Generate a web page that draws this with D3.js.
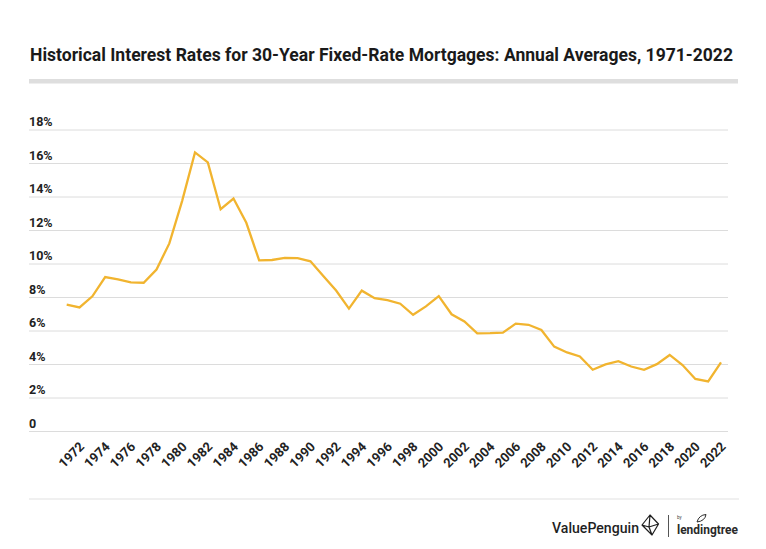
<!DOCTYPE html>
<html>
<head>
<meta charset="utf-8">
<script src="https://cdn.jsdelivr.net/npm/d3@7"></script>
<style>
  body { margin: 0; background: #fff; }
  svg { display: block; font-family: Roboto, "Noto Sans", sans-serif; }
</style>
</head>
<body>
<svg width="766" height="549"></svg>
<script>
// annual averages
const years = [1971, 1972, 1973, 1974, 1975, 1976, 1977, 1978, 1979, 1980,
    1981, 1982, 1983, 1984, 1985, 1986, 1987, 1988, 1989, 1990,
    1991, 1992, 1993, 1994, 1995, 1996, 1997, 1998, 1999, 2000,
    2001, 2002, 2003, 2004, 2005, 2006, 2007, 2008, 2009, 2010,
    2011, 2012, 2013, 2014, 2015, 2016, 2017, 2018, 2019, 2020,
    2021, 2022];
const rates = [7.54, 7.38, 8.04, 9.19, 9.05, 8.87, 8.85, 9.64, 11.20, 13.74,
    16.63, 16.04, 13.24, 13.88, 12.43, 10.19, 10.21, 10.34, 10.32, 10.13,
    9.25, 8.39, 7.31, 8.38, 7.93, 7.81, 7.60, 6.94, 7.44, 8.05,
    6.97, 6.54, 5.83, 5.84, 5.87, 6.41, 6.34, 6.03, 5.04, 4.69,
    4.45, 3.66, 3.98, 4.17, 3.85, 3.65, 3.99, 4.54, 3.94, 3.11,
    2.96, 4.10];
const yTicks = [0, 2, 4, 6, 8, 10, 12, 14, 16, 18];
const xTicks = d3.range(1972, 2023, 2);

const svg = d3.select("svg");

// title + grey bar
svg.append("text")
    .attr("x", 30)
    .attr("y", 61)
    .attr("textLength", 703)
    .attr("lengthAdjust", "spacingAndGlyphs")
    .style("font-size", "17.5px")
    .style("font-weight", 700)
    .style("fill", "#1a1a1a")
    .text("Historical Interest Rates for 30-Year Fixed-Rate Mortgages: Annual Averages, 1971-2022");

svg.append("rect")
    .attr("x", 29).attr("y", 79)
    .attr("width", 709).attr("height", 4.5)
    .attr("fill", "#dedede");

// scales
const gridLeft = 29, gridRight = 728;
const x = d3.scaleLinear().domain([1971, 2022]).range([66.7, 721]);
const y = d3.scaleLinear().domain([0, 18]).range([431, 129.5]);

// y grid + labels
const yAxis = svg.append("g")
    .attr("transform", `translate(${gridLeft},0)`)
    .call(d3.axisLeft(y)
        .tickValues(yTicks)
        .tickSize(-(gridRight - gridLeft))
        .tickFormat(d => d === 0 ? "0" : d + "%"));
yAxis.select(".domain").remove();
yAxis.selectAll(".tick line").attr("stroke", "#dcdcdc").attr("stroke-width", 1);
yAxis.selectAll(".tick text")
    .attr("x", 0)
    .attr("y", -4)
    .attr("dy", 0)
    .attr("text-anchor", "start")
    .style("font-family", "Roboto, sans-serif")
    .style("font-size", "12.5px")
    .style("font-weight", 700)
    .style("fill", "#222");

// x labels (rotated)
const xAxis = svg.append("g")
    .attr("transform", "translate(0,431)")
    .call(d3.axisBottom(x).tickValues(xTicks).tickSize(0).tickFormat(d3.format("d")));
xAxis.select(".domain").remove();
xAxis.selectAll(".tick text")
    .attr("y", 0)
    .attr("dy", 0)
    .attr("text-anchor", "end")
    .attr("transform", "translate(5,16.5) rotate(-45)")
    .style("font-family", "Roboto, sans-serif")
    .style("font-size", "13px")
    .style("font-weight", 700)
    .style("fill", "#222");

// the line
const line = d3.line()
    .x((d, i) => x(years[i]))
    .y(d => y(d));

svg.append("path")
    .datum(rates)
    .attr("d", line)
    .attr("fill", "none")
    .attr("stroke", "#f1b42f")
    .attr("stroke-width", 2.3)
    .attr("stroke-linejoin", "miter");

// footer
svg.append("line")
    .attr("x1", 29).attr("x2", 739)
    .attr("y1", 499).attr("y2", 499)
    .attr("stroke", "#e2e2e2").attr("stroke-width", 1.2);

const logo = svg.append("g");
logo.append("text")
    .attr("x", 552).attr("y", 533)
    .attr("textLength", 87)
    .attr("lengthAdjust", "spacingAndGlyphs")
    .style("font-size", "14.5px")
    .style("font-weight", 500)
    .style("fill", "#1f1f1f")
    .text("ValuePenguin");

// penguin mark (rough folded diamond)
logo.append("path")
    .attr("d", "M650,515 L658.5,524 L652,535 L642,525 Z M650,515 L649,527 L658.5,524 M642,525 L649,527 L652,535")
    .attr("fill", "none")
    .attr("stroke", "#1f1f1f")
    .attr("stroke-width", 1.2)
    .attr("stroke-linejoin", "round");

logo.append("line")
    .attr("x1", 668.5).attr("x2", 668.5)
    .attr("y1", 515).attr("y2", 537)
    .attr("stroke", "#555").attr("stroke-width", 1);

logo.append("text")
    .attr("x", 677).attr("y", 519)
    .style("font-size", "4.5px")
    .style("fill", "#444")
    .text("by");

logo.append("text")
    .attr("x", 677).attr("y", 534)
    .attr("textLength", 61)
    .attr("lengthAdjust", "spacingAndGlyphs")
    .style("font-size", "13px")
    .style("font-weight", 700)
    .style("fill", "#2a2a2a")
    .text("lendingtree");

// little leaf on the "d"
logo.append("path")
    .attr("d", "M697,522 Q699,515 706,514.5 Q705,521 697,522 Z")
    .attr("fill", "none")
    .attr("stroke", "#2a2a2a")
    .attr("stroke-width", 1);
</script>
</body>
</html>
